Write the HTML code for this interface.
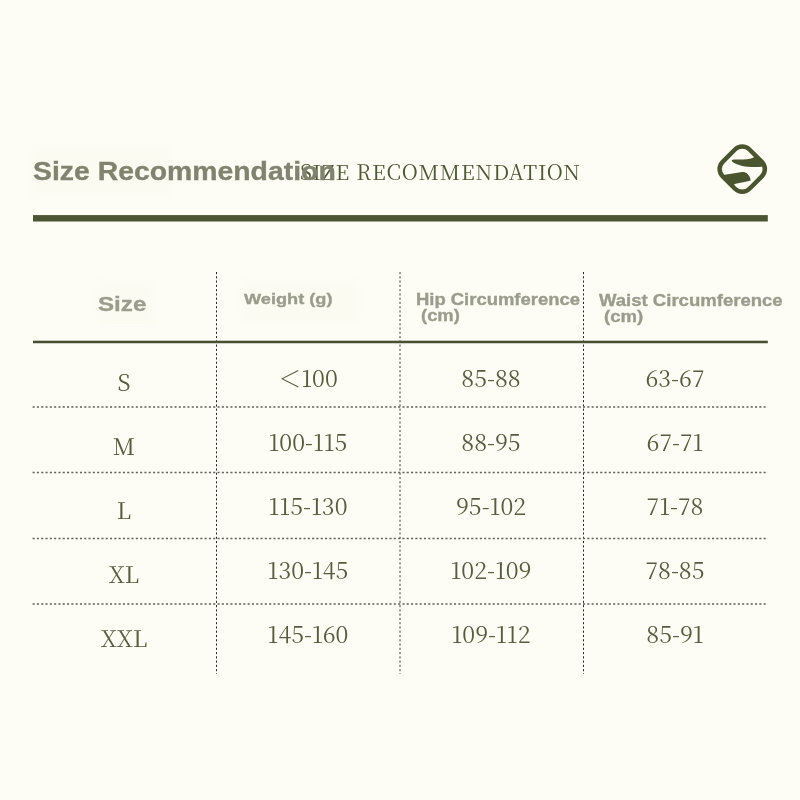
<!DOCTYPE html>
<html lang="en">
<head>
<meta charset="utf-8">
<title>Size Recommendation</title>
<style>
html,body{margin:0;padding:0;}
body{width:800px;height:800px;background:#fdfdf5;position:relative;overflow:hidden;}
.abs{will-change:transform;position:absolute;white-space:nowrap;line-height:1;margin:0;padding:0;}
.sans{font-family:"Liberation Sans",Arial,Helvetica,sans-serif;font-weight:700;transform-origin:0 0;-webkit-text-stroke:0.35px currentColor;}
.serif{font-family:"Noto Serif CJK SC","Liberation Serif",serif;font-weight:400;font-feature-settings:"locl" 0;}
.title-b{left:33px;top:159px;font-size:25px;color:#80846f;transform:scaleX(1.135);z-index:3;}
.title-s{left:300px;top:161px;font-size:21px;color:#4e5835;letter-spacing:0.82px;z-index:2;}
.patch{position:absolute;background:#fbfbf2;z-index:1;filter:blur(3px);}
.hd{color:#9a9d8c;z-index:3;}
.cell{color:#575d3e;font-size:23px;font-weight:400;width:120px;text-align:center;}
.c1{font-size:23px;font-weight:400;}
</style>
</head>
<body>

<!-- soft patches behind overlay text -->
<div class="patch" style="left:32px;top:147px;width:140px;height:48px;"></div>
<div class="patch" style="left:98px;top:282px;width:56px;height:42px;"></div>
<div class="patch" style="left:242px;top:282px;width:116px;height:40px;"></div>

<!-- title -->
<div class="abs serif title-s">SIZE RECOMMENDATION</div>
<div class="abs sans title-b">Size Recommendation</div>

<!-- logo -->
<svg style="position:absolute;left:712px;top:139px;" width="60" height="60" viewBox="0 0 60 60">
  <g transform="translate(30.25 30.1)" fill="#4a5530">
    <rect x="-19" y="-19" width="38" height="38" rx="10.25" ry="10.25" transform="rotate(45)" fill="none" stroke="#4a5530" stroke-width="4.5"/>
    <path d="M-10.5 -9.1 C-7 -10.1 -2 -9.5 1 -9.6 C6 -9.8 10 -10.6 13.5 -13.2 L22 -4 L20.8 -2.6 C15 -1.8 6 -1.8 0 -3.2 C-4 -4.2 -8.5 -5.7 -10.4 -7.9 Z"/>
    <path d="M-21 5 L-19 5.9 C-13 5.2 -6 3.6 -0.2 2.9 C3.5 2.6 7.6 5 8.4 11.3 C5 12.3 -0.2 13.2 -5.5 14.5 C-7 14.9 -8 15.3 -9 16 L-14 14.5 Z"/>
  </g>
</svg>


<!-- dotted grid lines and solid rules -->
<svg style="position:absolute;left:0;top:0;" width="800" height="800" viewBox="0 0 800 800">
  <g stroke="#262626" stroke-width="1" stroke-dasharray="2.1 2.17" fill="none">
    <line x1="216.5" y1="272" x2="216.5" y2="674"/>
    <line x1="400" y1="272" x2="400" y2="674" stroke="#3a3a3a"/>
    <line x1="583.5" y1="272" x2="583.5" y2="674"/>
  </g>
  <g stroke="#62625e" stroke-width="1.5" stroke-dasharray="2.1 2.2" fill="none">
    <line x1="32.6" y1="407" x2="768" y2="407"/>
    <line x1="32.6" y1="472.6" x2="768" y2="472.6"/>
    <line x1="32.6" y1="538.4" x2="768" y2="538.4"/>
    <line x1="32.6" y1="604" x2="768" y2="604"/>
  </g>
  <rect x="33" y="215.1" width="734.8" height="6.4" fill="#4b5433"/>
  <rect x="33" y="340.7" width="734.8" height="2.55" fill="#465030"/>
</svg>


<!-- header -->
<div class="abs sans hd" style="left:97.5px;top:292.6px;font-size:21px;transform:scaleX(1.15);">Size</div>
<div class="abs sans hd" style="left:244.2px;top:291.2px;font-size:15px;transform:scaleX(1.212);">Weight (g)</div>
<div class="abs sans hd" style="left:416.3px;top:292.3px;font-size:16px;transform:scaleX(1.152);">Hip Circumference</div>
<div class="abs sans hd" style="left:420.8px;top:307.5px;font-size:16px;transform:scaleX(1.15);">(cm)</div>
<div class="abs sans hd" style="left:598.8px;top:293.4px;font-size:16px;transform:scaleX(1.158);">Waist Circumference</div>
<div class="abs sans hd" style="left:603.8px;top:308.8px;font-size:16px;transform:scaleX(1.16);">(cm)</div>

<!-- rows -->
<div class="abs serif cell c1" style="left:64.4px;top:370px;">S</div>
<div class="abs serif cell" style="left:248px;top:366.4px;">＜100</div>
<div class="abs serif cell" style="left:431px;top:366.4px;">85-88</div>
<div class="abs serif cell" style="left:615px;top:366.4px;">63-67</div>

<div class="abs serif cell c1" style="left:64.4px;top:434px;">M</div>
<div class="abs serif cell" style="left:247.6px;top:430.4px;">100-115</div>
<div class="abs serif cell" style="left:431px;top:430.4px;">88-95</div>
<div class="abs serif cell" style="left:615px;top:430.4px;">67-71</div>

<div class="abs serif cell c1" style="left:64.4px;top:498px;">L</div>
<div class="abs serif cell" style="left:247.6px;top:494.4px;">115-130</div>
<div class="abs serif cell" style="left:431px;top:494.4px;">95-102</div>
<div class="abs serif cell" style="left:615px;top:494.4px;">71-78</div>

<div class="abs serif cell c1" style="left:64.4px;top:562px;">XL</div>
<div class="abs serif cell" style="left:247.6px;top:558.4px;">130-145</div>
<div class="abs serif cell" style="left:431px;top:558.4px;">102-109</div>
<div class="abs serif cell" style="left:615px;top:558.4px;">78-85</div>

<div class="abs serif cell c1" style="left:64.4px;top:626px;">XXL</div>
<div class="abs serif cell" style="left:247.6px;top:622.4px;">145-160</div>
<div class="abs serif cell" style="left:431px;top:622.4px;">109-112</div>
<div class="abs serif cell" style="left:615px;top:622.4px;">85-91</div>

</body>
</html>
